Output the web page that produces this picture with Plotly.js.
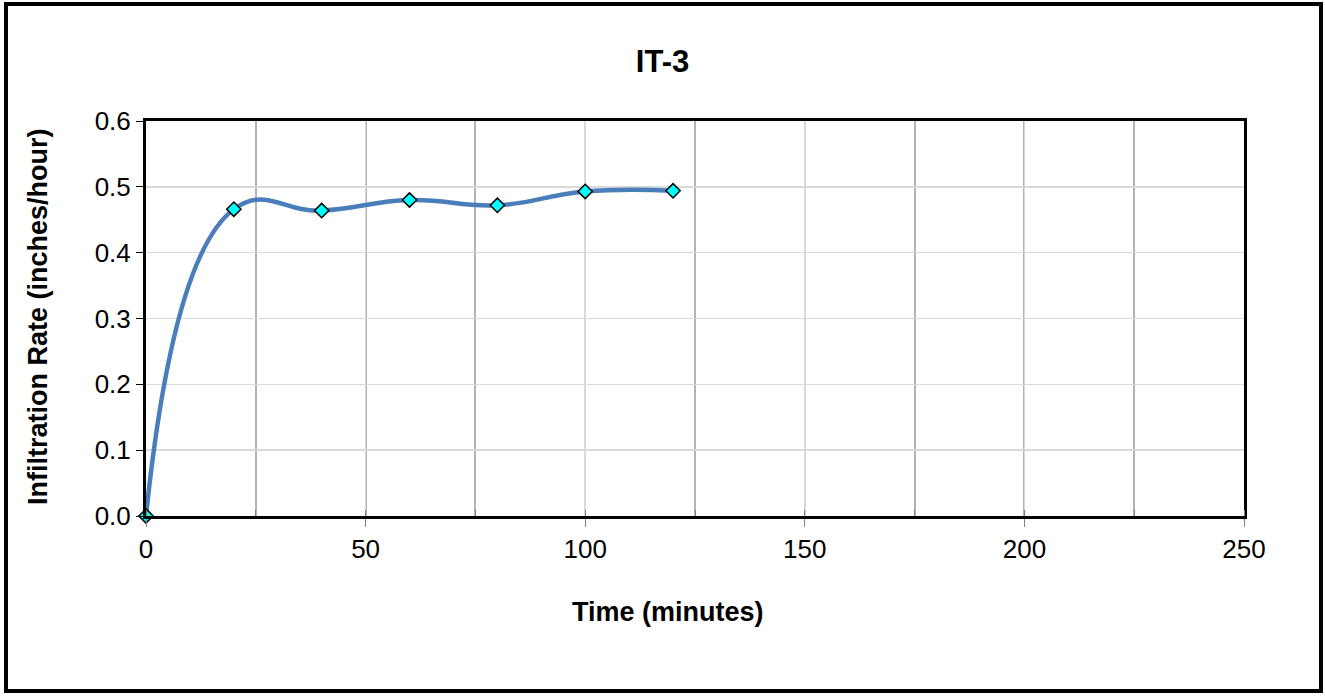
<!DOCTYPE html>
<html>
<head>
<meta charset="utf-8">
<script src="https://cdn.plot.ly/plotly-3.0.1.min.js"></script>
<style>
html,body{margin:0;padding:0;background:#fff;}
#chart{width:1325px;height:696px;}
</style>
</head>
<body>
<div id="chart"></div>
<script>
const chartTitle = "IT-3";
const xTitle = "Time (minutes)";
const yTitle = "Infiltration Rate (inches/hour)";
const timeMinutes = [0, 20, 40, 60, 80, 100, 120];
const infiltrationRate = [0, 0.466, 0.464, 0.480, 0.472, 0.493, 0.494];

const W = 1325, H = 696;
const L = 146, R = 1244, T = 121, B = 516;
const pw = R - L, ph = B - T;
const px = v => (v - L) / pw;
const py = v => (B - v) / ph;

const trace = {
  x: timeMinutes,
  y: infiltrationRate,
  type: 'scatter',
  mode: 'lines+markers',
  line: {shape: 'spline', smoothing: 1.3, color: '#4A7EBB', width: 4.5},
  marker: {symbol: 'diamond', size: 11, color: '#00FFFF', line: {color: '#000000', width: 1.5}},
  cliponaxis: false,
  hoverinfo: 'x+y'
};

const font = {family: 'Liberation Sans, Arial, sans-serif', color: '#000'};

const layout = {
  width: W, height: H,
  margin: {l: L, r: W - R, t: T, b: H - B, pad: 0},
  paper_bgcolor: '#fff',
  plot_bgcolor: '#fff',
  showlegend: false,
  font: font,
  title: {
    text: '<b>' + chartTitle + '</b>',
    font: {family: font.family, size: 31, color: '#000'},
    x: 0.5, xref: 'container', xanchor: 'center',
    y: 1 - 61 / H, yref: 'container', yanchor: 'middle'
  },
  xaxis: {
    range: [0, 250],
    dtick: 50, tick0: 0,
    showgrid: true, gridcolor: '#d9d9d9', gridwidth: 1.5,
    minor: {dtick: 25, showgrid: true, gridcolor: '#b3b3b3', gridwidth: 2, ticks: 'inside', ticklen: 6, tickcolor: '#808080'},
    ticks: 'outside', ticklen: 8, tickcolor: '#808080', tickwidth: 1,
    showline: true, linecolor: '#000', linewidth: 3, mirror: true,
    zeroline: false,
    tickfont: {family: font.family, size: 26, color: '#000'},
    fixedrange: true
  },
  yaxis: {
    range: [0, 0.6],
    dtick: 0.1, tick0: 0, tickformat: '.1f',
    showgrid: true, gridcolor: '#d9d9d9', gridwidth: 1.5,
    ticks: 'outside', ticklen: 7, tickcolor: '#000', tickwidth: 1,
    showline: true, linecolor: '#000', linewidth: 3, mirror: true,
    zeroline: false,
    tickfont: {family: font.family, size: 26, color: '#000'},
    fixedrange: true
  },
  annotations: [
    {
      text: '<b>' + xTitle + '</b>',
      xref: 'paper', yref: 'paper',
      x: px(668), y: py(612),
      xanchor: 'center', yanchor: 'middle',
      showarrow: false,
      font: {family: font.family, size: 27, color: '#000'}
    },
    {
      text: '<b>' + yTitle + '</b>',
      xref: 'paper', yref: 'paper',
      x: px(38), y: py(317),
      xanchor: 'center', yanchor: 'middle',
      textangle: -90,
      showarrow: false,
      font: {family: font.family, size: 27, color: '#000'}
    }
  ],
  shapes: [
    {
      type: 'rect', xref: 'paper', yref: 'paper',
      x0: px(6), x1: px(1321), y0: py(691), y1: py(4),
      line: {color: '#000', width: 4},
      fillcolor: 'rgba(0,0,0,0)',
      layer: 'below'
    }
  ]
};

Plotly.newPlot('chart', [trace], layout, {displayModeBar: false, staticPlot: true});
</script>
</body>
</html>
